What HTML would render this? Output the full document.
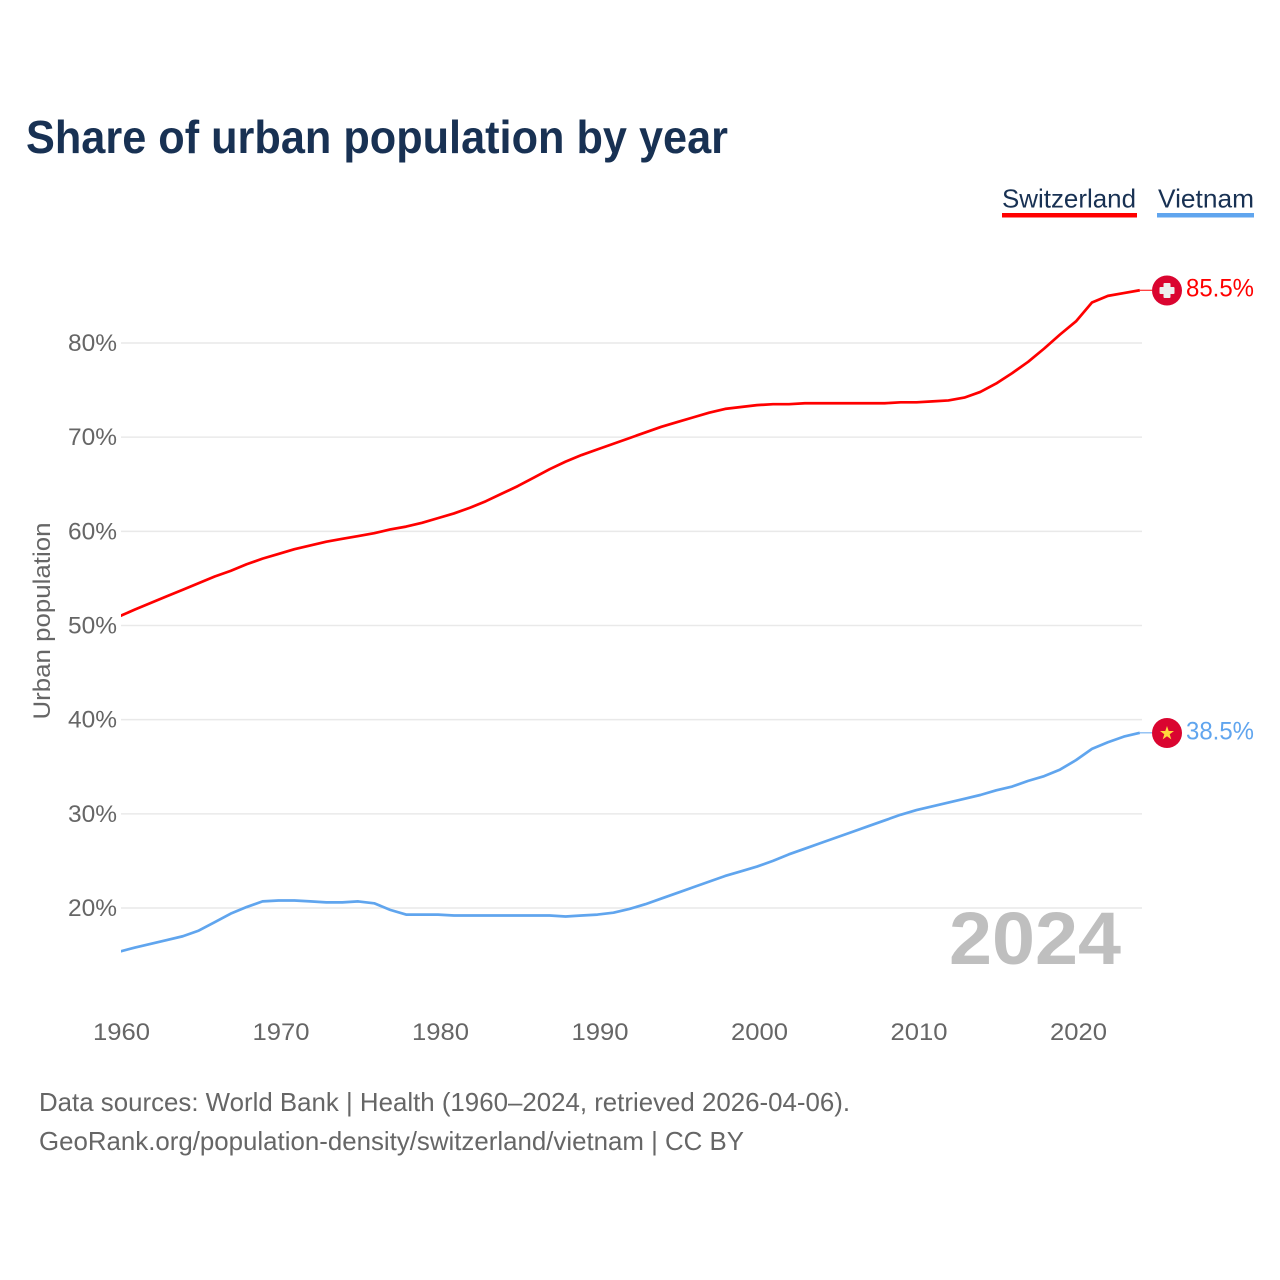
<!DOCTYPE html>
<html lang="en">
<head>
<meta charset="utf-8">
<title>Share of urban population by year</title>
<style>
html,body{margin:0;padding:0;background:#fff;}
svg{display:block;font-family:"Liberation Sans",sans-serif;}
</style>
</head>
<body>
<svg id="chart" xmlns="http://www.w3.org/2000/svg" width="1280" height="1280" viewBox="0 0 1280 1280">
  <defs>
    <clipPath id="plot-clip"><rect x="121" y="200" width="1040" height="800"/></clipPath>
  </defs>
  <rect x="0" y="0" width="1280" height="1280" fill="#ffffff"/>
  <text x="26" y="153" font-size="46" font-weight="700" fill="#183153" textLength="702" lengthAdjust="spacingAndGlyphs">Share of urban population by year</text>

  <g>
    <text x="1002" y="207.5" font-size="26" fill="#183153" textLength="134" lengthAdjust="spacingAndGlyphs">Switzerland</text>
    <rect x="1002" y="213" width="135" height="4.5" fill="#ff0000"/>
  </g>
  <g>
    <text x="1158" y="207.5" font-size="26" fill="#183153" textLength="96" lengthAdjust="spacingAndGlyphs">Vietnam</text>
    <rect x="1157" y="213" width="97" height="4.5" fill="#60a5ee"/>
  </g>

  <g id="grid"></g>
  <g id="yticks"></g>
  <g id="xticks"></g>

  <text transform="translate(50,621) rotate(-90)" text-anchor="middle" font-size="24" fill="#666666" textLength="197" lengthAdjust="spacingAndGlyphs">Urban population</text>

  <text x="949" y="964" font-size="74" font-weight="700" fill="#bfbfbf" textLength="172" lengthAdjust="spacingAndGlyphs">2024</text>

  <g id="series" clip-path="url(#plot-clip)"></g>

  <g>
    <circle cx="1167" cy="290.5" r="15" fill="#da0530"/>
    <rect x="1163.5" y="283" width="7" height="15" rx="1" fill="#eeeeee"/>
    <rect x="1159.5" y="287" width="15" height="7" rx="1" fill="#eeeeee"/>
  </g>
  <text x="1186" y="296.5" font-size="25" fill="#ff0000" textLength="68" lengthAdjust="spacingAndGlyphs">85.5%</text>

  <g>
    <circle cx="1167" cy="733" r="15" fill="#da0530"/>
    <polygon points="1167,726 1168.7,731 1174,731 1169.7,734.2 1171.3,739.4 1167,736.2 1162.7,739.4 1164.3,734.2 1160,731 1165.3,731" fill="#ffd83d"/>
  </g>
  <text x="1186" y="739.5" font-size="25" fill="#60a5ee" textLength="68" lengthAdjust="spacingAndGlyphs">38.5%</text>

  <text x="39" y="1111" font-size="26" fill="#666666" textLength="811" lengthAdjust="spacingAndGlyphs">Data sources: World Bank | Health (1960–2024, retrieved 2026-04-06).</text>
  <text x="39" y="1150" font-size="26" fill="#666666" textLength="705" lengthAdjust="spacingAndGlyphs">GeoRank.org/population-density/switzerland/vietnam | CC BY</text>
</svg>
<script>
const years = [1960,1961,1962,1963,1964,1965,1966,1967,1968,1969,1970,1971,1972,1973,1974,1975,1976,1977,1978,1979,1980,1981,1982,1983,1984,1985,1986,1987,1988,1989,1990,1991,1992,1993,1994,1995,1996,1997,1998,1999,2000,2001,2002,2003,2004,2005,2006,2007,2008,2009,2010,2011,2012,2013,2014,2015,2016,2017,2018,2019,2020,2021,2022,2023,2024];
const switzerland = [50.95,51.7,52.4,53.1,53.8,54.5,55.2,55.8,56.5,57.1,57.6,58.1,58.5,58.9,59.2,59.5,59.8,60.2,60.5,60.9,61.4,61.9,62.5,63.2,64.0,64.8,65.7,66.6,67.4,68.1,68.7,69.3,69.9,70.5,71.1,71.6,72.1,72.6,73.0,73.2,73.4,73.5,73.5,73.6,73.6,73.6,73.6,73.6,73.6,73.7,73.7,73.8,73.9,74.2,74.8,75.7,76.8,78.0,79.4,80.9,82.3,84.3,85.0,85.3,85.6];
const vietnam = [15.35,15.8,16.2,16.6,17.0,17.6,18.5,19.4,20.1,20.7,20.8,20.8,20.7,20.6,20.6,20.7,20.5,19.8,19.3,19.3,19.3,19.2,19.2,19.2,19.2,19.2,19.2,19.2,19.1,19.2,19.3,19.5,19.9,20.4,21.0,21.6,22.2,22.8,23.4,23.9,24.4,25.0,25.7,26.3,26.9,27.5,28.1,28.7,29.3,29.9,30.4,30.8,31.2,31.6,32.0,32.5,32.9,33.5,34.0,34.7,35.7,36.9,37.6,38.2,38.6];
const yTickValues = [20,30,40,50,60,70,80];
const yTickLabels = ["20%","30%","40%","50%","60%","70%","80%"];
const xTickValues = [1960,1970,1980,1990,2000,2010,2020];
const xTickLabels = ["1960","1970","1980","1990","2000","2010","2020"];

const NS = "http://www.w3.org/2000/svg";
function xTickScale(year){ return 121.5 + (year - 1960) * 15.95; }
function xScale(year){ return 119 + (year - 1960) * 15.95; }
function yScale(pct){ return 908 - (pct - 20) * 9.417; }
function make(tag, attrs, parent, text){
  const el = document.createElementNS(NS, tag);
  for (const k in attrs) el.setAttribute(k, attrs[k]);
  if (text !== undefined) el.textContent = text;
  parent.appendChild(el);
  return el;
}

const gridG = document.getElementById("grid");
const yG = document.getElementById("yticks");
const xG = document.getElementById("xticks");
const seriesG = document.getElementById("series");

yTickValues.forEach(function(v, i){
  const line = make("line", {x1:121, x2:1142, y1:yScale(v), y2:yScale(v), stroke:"#e9e9e9", "stroke-width":1.5}, gridG);
  
  
  const t = make("text", {x:117, y:yScale(v)+8, "text-anchor":"end", "font-size":24, fill:"#666666", textLength:49, lengthAdjust:"spacingAndGlyphs"}, yG, yTickLabels[i]);
  
  
});

xTickValues.forEach(function(v, i){
  const t = make("text", {x:xTickScale(v), y:1040, "text-anchor":"middle", "font-size":24, fill:"#666666", textLength:57, lengthAdjust:"spacingAndGlyphs"}, xG, xTickLabels[i]);
  
  
});

function linePath(values){
  return values.map(function(v, i){
    return (i ? "L" : "M") + xScale(years[i]).toFixed(2) + " " + yScale(v).toFixed(2);
  }).join(" ");
}

const swissLine = make("path", {d:linePath(switzerland), fill:"none", stroke:"#ff0000", "stroke-width":2.7, "stroke-linejoin":"round"}, seriesG);



const vietLine = make("path", {d:linePath(vietnam), fill:"none", stroke:"#60a5ee", "stroke-width":2.7, "stroke-linejoin":"round"}, seriesG);



const swissLast = switzerland[switzerland.length - 1];
const swissLead = make("line", {x1:xScale(2024), x2:1152, y1:yScale(swissLast), y2:yScale(swissLast), stroke:"#ff0000", "stroke-width":1}, seriesG);



const vietLast = vietnam[vietnam.length - 1];
const vietLead = make("line", {x1:xScale(2024), x2:1152, y1:yScale(vietLast), y2:yScale(vietLast), stroke:"#60a5ee", "stroke-width":1}, seriesG);


</script>
</body>
</html>
